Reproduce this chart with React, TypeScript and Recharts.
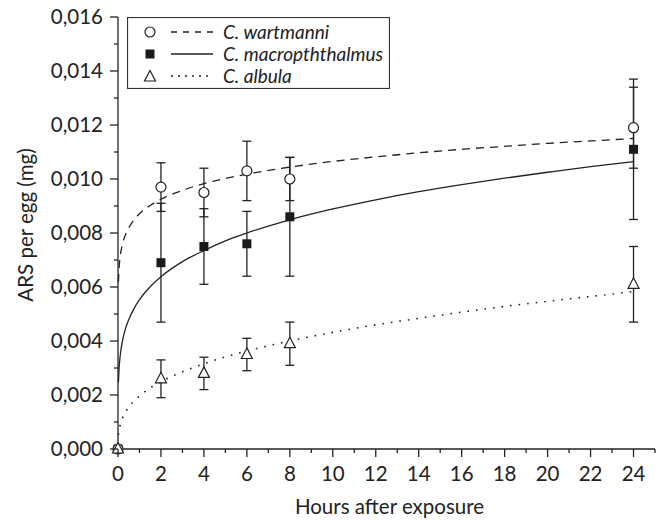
import { ComposedChart, Line, Scatter, ErrorBar, XAxis, YAxis, Legend } from "recharts"

// fitted curves (mg per egg)
const curveHours = [0.02, 0.05, 0.1, 0.2, 0.35, 0.5, 0.75, 1, 1.5, 2, 3, 4, 5, 6, 8, 10, 12, 14, 16, 18, 20, 22, 24]
const wartmanniFit = [0.00618, 0.0067, 0.00712, 0.00756, 0.00794, 0.00819, 0.00849, 0.00871, 0.00902, 0.00925, 0.00958, 0.00983, 0.01002, 0.01018, 0.01044, 0.01065, 0.01082, 0.01097, 0.0111, 0.01121, 0.01132, 0.01141, 0.0115]
const macroFit = [0.00247, 0.00298, 0.00344, 0.00397, 0.00446, 0.00479, 0.00521, 0.00553, 0.00601, 0.00638, 0.00694, 0.00735, 0.00771, 0.008, 0.00849, 0.00889, 0.00923, 0.00953, 0.00979, 0.01003, 0.01025, 0.01046, 0.01064]
const albulaFit = [0.00052, 0.0007, 0.00089, 0.00113, 0.00137, 0.00155, 0.00178, 0.00196, 0.00226, 0.00249, 0.00286, 0.00316, 0.00341, 0.00363, 0.004, 0.00432, 0.0046, 0.00484, 0.00507, 0.00528, 0.00547, 0.00565, 0.00583]

// measured means and error bars
const sampleHours = [0, 2, 4, 6, 8, 24]
const wartmanniMean = [0, 0.0097, 0.0095, 0.0103, 0.01, 0.0119]
const wartmanniErr = [0, 0.0009, 0.0009, 0.0011, 0.0008, 0.0015]
const macroMean = [0, 0.0069, 0.0075, 0.0076, 0.0086, 0.0111]
const macroErr = [0, 0.0022, 0.0014, 0.0012, 0.0022, 0.0026]
const albulaMean = [0, 0.0026, 0.0028, 0.0035, 0.0039, 0.0061]
const albulaErr = [0, 0.0007, 0.0006, 0.0006, 0.0008, 0.0014]

const xTicks = [0, 1, 2, 3, 4, 5, 6, 7, 8, 9, 10, 11, 12, 13, 14, 15, 16, 17, 18, 19, 20, 21, 22, 23, 24, 25]
const yTicks = [0, 0.001, 0.002, 0.003, 0.004, 0.005, 0.006, 0.007, 0.008, 0.009, 0.01, 0.011, 0.012, 0.013, 0.014, 0.015, 0.016]

const INK = "#222"
const FONT = "Lato, 'Open Sans', sans-serif"

const curveRows = curveHours.map((x, i) => ({ x, w: wartmanniFit[i], m: macroFit[i], a: albulaFit[i] }))
const toPoints = (mean: number[], err: number[]) => sampleHours.map((x, i) => ({ x, y: mean[i], err: err[i] }))
const wartmanniPts = toPoints(wartmanniMean, wartmanniErr)
const macroPts = toPoints(macroMean, macroErr)
const albulaPts = toPoints(albulaMean, albulaErr)

function OpenCircle({ cx, cy }: any) {
  return <circle cx={cx} cy={cy} r={5} fill="#fff" stroke={INK} strokeWidth={1.2} />
}
function FilledSquare({ cx, cy }: any) {
  return <rect x={cx - 4.5} y={cy - 4.5} width={9} height={9} fill="#1a1a1a" />
}
function OpenTriangle({ cx, cy }: any) {
  return <polygon points={`${cx},${cy - 6.5} ${cx + 5.5},${cy + 4} ${cx - 5.5},${cy + 4}`} fill="#fff" stroke={INK} strokeWidth={1.2} />
}

function YTick({ x, y, payload }: any) {
  const major = Math.round(payload.value * 1000) % 2 === 0
  return (
    <g>
      <line x1={x} x2={x - (major ? 8 : 4)} y1={y} y2={y} stroke={INK} strokeWidth={1.3} />
      {major && (
        <text x={x - 15} y={y} dy="0.36em" textAnchor="end" fontSize={20.5} fontFamily={FONT} fill={INK}>
          {payload.value.toFixed(3).replace(".", ",")}
        </text>
      )}
    </g>
  )
}

function XTick({ x, y, payload }: any) {
  const major = payload.value % 2 === 0
  return (
    <g>
      <line x1={x} x2={x} y1={y} y2={y + (major ? 8 : 4)} stroke={INK} strokeWidth={1.3} />
      {major && (
        <text x={x} y={y + 32} textAnchor="middle" fontSize={20.5} fontFamily={FONT} fill={INK}>
          {payload.value}
        </text>
      )}
    </g>
  )
}

const legendRows = [
  { name: "C. wartmanni", dash: "6 6", marker: "circle" },
  { name: "C. macropththalmus", dash: undefined, marker: "square" },
  { name: "C. albula", dash: "2 5", marker: "triangle" },
]

function LegendBox() {
  return (
    <svg width={263} height={72} style={{ display: "block" }}>
      <rect x={0.5} y={0.5} width={262} height={71} fill="#fff" stroke="#333" strokeWidth={1.2} />
      {legendRows.map((r, i) => {
        const cy = 15 + i * 22
        return (
          <g key={r.name}>
            {r.marker === "circle" && <OpenCircle cx={23} cy={cy} />}
            {r.marker === "square" && <FilledSquare cx={23} cy={cy} />}
            {r.marker === "triangle" && <OpenTriangle cx={23} cy={cy + 1} />}
            <line x1={44} x2={86} y1={cy} y2={cy} stroke={INK} strokeWidth={1.3} strokeDasharray={r.dash} />
            <text x={96} y={cy} dy="0.36em" fontSize={19} fontStyle="italic" fontFamily={FONT} fill={INK}>
              {r.name}
            </text>
          </g>
        )
      })}
    </svg>
  )
}

export default function App() {
  return (
    <div style={{ position: "absolute", left: 0, top: 0, width: 660, height: 520, background: "#fff" }}>
      <ComposedChart width={660} height={520} data={curveRows} margin={{ top: 17, right: 5, left: 48, bottom: 11 }}>
        <XAxis
          type="number"
          dataKey="x"
          domain={[0, 25]}
          ticks={xTicks}
          interval={0}
          height={60}
          tickSize={0}
          tickMargin={0}
          tickLine={false}
          axisLine={{ stroke: INK, strokeWidth: 1.3 }}
          tick={<XTick />}
          label={({ viewBox }: any) => (
            <text x={viewBox.x + viewBox.width / 2 + 3} y={viewBox.y + 65} textAnchor="middle" fontSize={20.5} fontFamily={FONT} fill={INK}>
              Hours after exposure
            </text>
          )}
        />
        <YAxis
          type="number"
          domain={[0, 0.016]}
          ticks={yTicks}
          interval={0}
          width={70}
          tickSize={0}
          tickMargin={0}
          tickLine={false}
          axisLine={{ stroke: INK, strokeWidth: 1.3 }}
          tick={<YTick />}
          label={({ viewBox }: any) => {
            const cx = viewBox.x - 15
            const cy = viewBox.y + viewBox.height / 2 - 8
            return (
              <text x={cx} y={cy} transform={`rotate(-90 ${cx} ${cy})`} textAnchor="middle" fontSize={20.5} fontFamily={FONT} fill={INK}>
                ARS per egg (mg)
              </text>
            )
          }}
        />
        <Legend
          layout="vertical"
          verticalAlign="middle"
          align="center"
          content={() => <LegendBox />}
          wrapperStyle={{ position: "absolute", left: 127, top: 17, width: 263, height: 72 }}
        />
        <Line type="monotone" dataKey="w" stroke={INK} strokeWidth={1.3} strokeDasharray="8 6" dot={false} activeDot={false} isAnimationActive={false} legendType="none" />
        <Line type="monotone" dataKey="m" stroke={INK} strokeWidth={1.3} dot={false} activeDot={false} isAnimationActive={false} legendType="none" />
        <Line type="monotone" dataKey="a" stroke={INK} strokeWidth={1.6} strokeDasharray="1.6 7" dot={false} activeDot={false} isAnimationActive={false} legendType="none" />
        <Scatter data={macroPts} dataKey="y" shape={<FilledSquare />} isAnimationActive={false}>
          <ErrorBar dataKey="err" direction="y" width={4.5} stroke={INK} strokeWidth={1.3} />
        </Scatter>
        <Scatter data={wartmanniPts} dataKey="y" shape={<OpenCircle />} isAnimationActive={false}>
          <ErrorBar dataKey="err" direction="y" width={4.5} stroke={INK} strokeWidth={1.3} />
        </Scatter>
        <Scatter data={albulaPts} dataKey="y" shape={<OpenTriangle />} isAnimationActive={false}>
          <ErrorBar dataKey="err" direction="y" width={4.5} stroke={INK} strokeWidth={1.3} />
        </Scatter>
      </ComposedChart>
    </div>
  )
}
